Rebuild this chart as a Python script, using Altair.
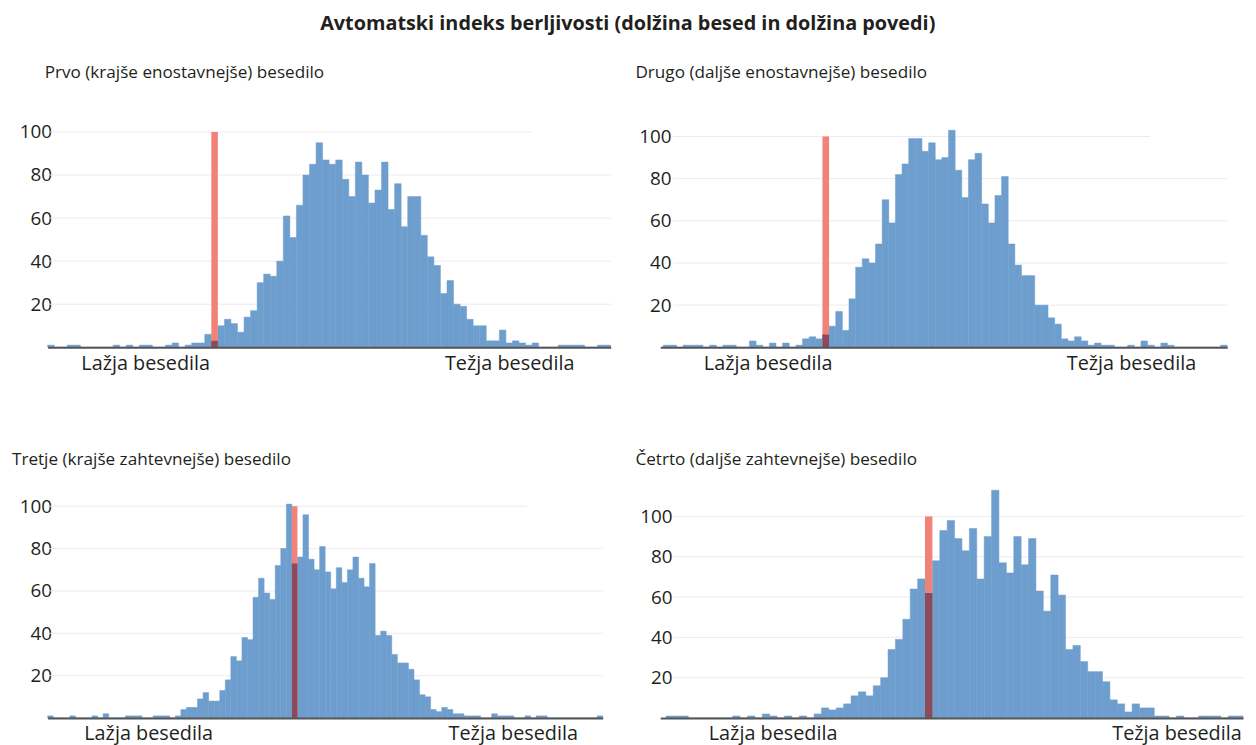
import altair as alt
import pandas as pd

TITLE = "Avtomatski indeks berljivosti (dolžina besed in dolžina povedi)"
PANEL_TITLES = [
    "Prvo (krajše enostavnejše) besedilo",
    "Drugo (daljše enostavnejše) besedilo",
    "Tretje (krajše zahtevnejše) besedilo",
    "Četrto (daljše zahtevnejše) besedilo",
]
X_LABELS = ["Lažja besedila", "Težja besedila"]
Y_TICKS = [20, 40, 60, 80, 100]

# histogram counts per bin (left to right)
COUNTS_1 = [1, 0, 0, 1, 1, 0, 0, 0, 0, 0, 1, 0, 1, 0, 1, 1, 0, 0, 1, 2, 0, 1, 2, 2, 6,
            3,
            10, 13, 11, 7, 14, 17, 30, 34, 33, 40, 61, 51, 66, 80, 85, 95, 87, 85, 87, 78,
            70, 86, 80, 67, 73, 86, 64, 76, 56, 70, 70, 52, 42, 38, 25, 31, 20, 19, 13, 10,
            10, 3, 3, 8, 2, 3, 2, 1, 2, 0, 0, 0, 1, 1, 1, 1, 0, 0, 1, 1]
COUNTS_2 = [1, 1, 0, 1, 1, 1, 0, 1, 0, 1, 1, 0, 0, 3, 1, 0, 2, 0, 2, 0, 1, 4, 5, 4,
            6,
            10, 17, 8, 23, 38, 42, 40, 49, 70, 59, 82, 87, 99, 99, 93, 97, 89, 90, 103, 84,
            71, 89, 92, 68, 59, 72, 81, 49, 39, 34, 34, 20, 20, 14, 11, 4, 3, 5, 3, 1,
            2, 1, 1, 0, 0, 1, 0, 3, 1, 0, 2, 1, 0, 0, 0, 0, 0, 0, 0, 1]
COUNTS_3 = [1, 0, 0, 0, 1, 0, 0, 0, 1, 0, 2, 0, 0, 0, 1, 1, 1, 0, 0, 1, 1, 1, 0, 1,
            4, 5, 5, 9, 12, 8, 8, 13, 18, 29, 27, 38, 37, 57, 66, 59, 56, 72, 80, 101,
            73,
            76, 96, 75, 70, 81, 69, 61, 71, 64, 70, 76, 66, 62, 73, 39, 41, 39, 30, 26, 26,
            23, 18, 11, 10, 4, 3, 5, 4, 2, 2, 1, 1, 1, 0, 0, 2, 1, 1, 1, 0,
            0, 1, 0, 1, 1, 0, 0, 0, 0, 0, 0, 0, 0, 0, 1]
COUNTS_4 = [1, 1, 1, 0, 0, 0, 0, 0, 0, 1, 0, 1, 0, 2, 1, 0, 1, 0, 1, 0, 2, 5, 4, 5, 7,
            11, 13, 11, 16, 20, 34, 39, 49, 64, 69,
            62,
            78, 93, 98, 89, 83, 94, 69, 90, 113, 77, 72, 90, 76, 89, 63, 53, 71, 61, 34, 36,
            28, 23, 23, 18, 9, 7, 3, 7, 5, 5, 1, 1, 0, 1, 0, 0, 1, 1, 1, 0, 1, 1]

MARK_BIN = [25, 24, 44, 35]          # bin holding the highlighted text
MARK_TOP = [100, 100, 100, 100]
LABEL_BINS = [[14.9, 70.5], [15.75, 70.5], [18.1, 83.8], [14.4, 69.0]]
GRID_TOP_END = [74, 73.4, 86.3, 78]   # where the 100 grid line stops (bin units)
GRID_START = [0.3, 1.5, 0.3, 1.0]
X_START = [0, -0.45, 0, -0.8]         # left end of each panel's bin axis

BLUE = "#6e9ece"
RED = "#f08278"
DARK = "#8c4b5a"
GRID = "#ebebf0"
AXIS = "#555555"
TEXT = "#231f20"
FONT = "Open Sans"


def panel(i, counts, width, height, ymax, title_dx, title_offset, ylab_pad):
    n = len(counts)
    xs = alt.Scale(domain=[X_START[i], n], nice=False, zero=False)
    ys = alt.Scale(domain=[0, ymax], nice=False)
    X = alt.X("x0:Q", scale=xs, axis=alt.Axis(
        values=LABEL_BINS[i], ticks=False, grid=False, title=None,
        labelExpr=f"datum.value < {n / 2} ? '{X_LABELS[0]}' : '{X_LABELS[1]}'",
        domainColor=AXIS, domainWidth=2, labelFontSize=20, labelFont=FONT,
        labelColor=TEXT, labelPadding=6, labelOverlap=False, labelFlush=False,
        labelBound=False, zindex=2))
    Y = alt.Y("count:Q", scale=ys, axis=alt.Axis(
        values=Y_TICKS, grid=False, domain=False, ticks=False, title=None,
        labelFontSize=19, labelFont=FONT, labelColor=TEXT, labelPadding=ylab_pad))

    bins = pd.DataFrame({"x0": list(range(n)), "x1": list(range(1, n + 1)), "count": counts})
    grid_df = pd.DataFrame({
        "x0": [GRID_START[i]] * len(Y_TICKS),
        "x1": [n] * (len(Y_TICKS) - 1) + [GRID_TOP_END[i]],
        "count": Y_TICKS,
    })
    r = MARK_BIN[i]
    mark_df = pd.DataFrame({"x0": [r], "x1": [r + 1], "count": [MARK_TOP[i]]})
    over_df = pd.DataFrame({"x0": [r], "x1": [r + 1], "count": [counts[r]]})

    grid = alt.Chart(grid_df).mark_rule(color=GRID, strokeWidth=1).encode(x=X, x2="x1:Q", y=Y)
    bars = alt.Chart(bins).mark_rect(color=BLUE, stroke=BLUE, strokeWidth=0.5).encode(
        x=X, x2="x1:Q", y=Y, y2=alt.datum(0))
    marker = alt.Chart(mark_df).mark_rect(color=RED).encode(x=X, x2="x1:Q", y=Y, y2=alt.datum(0))
    over = alt.Chart(over_df).mark_rect(color=DARK).encode(x=X, x2="x1:Q", y=Y, y2=alt.datum(0))

    return alt.layer(grid, bars, marker, over).properties(
        width=width, height=height,
        title=alt.TitleParams(PANEL_TITLES[i], anchor="start", frame="group", dx=title_dx,
                              offset=title_offset, fontSize=17.3, font=FONT,
                              fontWeight="normal", color=TEXT, baseline="alphabetic"))


H = 232
p1 = panel(0, COUNTS_1, 568, H, 106.8, -3, 22, -4)
p2 = panel(1, COUNTS_2, 572, H, 109.1, -25, 22, -11)
p3 = panel(2, COUNTS_3, 560, H, 108.6, -36, 6, -4)
p4 = panel(3, COUNTS_4, 588, H, 114.1, -25, 6, -12)

chart = alt.concat(p1, p2, p3, p4, columns=2, spacing={"row": 142, "column": 50},
                   bounds="flush").properties(
    title=alt.TitleParams(TITLE, anchor="middle", fontSize=20, fontWeight="bold",
                          font=FONT, color=TEXT, baseline="top", offset=31),
    padding={"left": 4, "top": 2, "right": 4, "bottom": 2},
).configure_view(stroke=None)

chart.save("out.html", embed_options={"renderer": "svg", "actions": False})
